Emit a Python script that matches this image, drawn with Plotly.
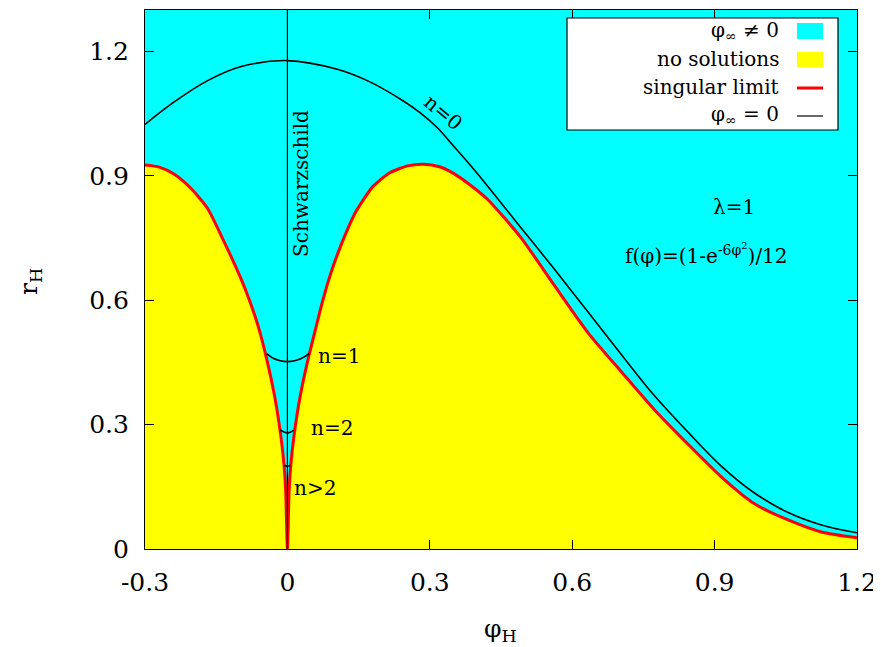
import plotly.graph_objects as go

# ---------------- data ----------------
# n = 0 branch (phi_inf = 0)
phi_n0 = [-0.3, -0.24, -0.169, -0.099, 0.0, 0.105, 0.175, 0.245, 0.28, 0.316, 0.35, 0.386, 0.422,
          0.492, 0.561, 0.633, 0.703, 0.773, 0.843, 0.914, 0.984, 1.055, 1.125, 1.2]
r_n0 = [1.024, 1.077, 1.129, 1.163, 1.178, 1.157, 1.126, 1.080, 1.052, 1.016, 0.972, 0.925, 0.875,
        0.775, 0.677, 0.572, 0.470, 0.370, 0.283, 0.200, 0.135, 0.088, 0.058, 0.039]

# singular limit (boundary of the no-solution region)
phi_sing = [-0.3, -0.27, -0.24, -0.205, -0.169, -0.135, -0.099, -0.08, -0.061, -0.044, -0.027, -0.014,
            -0.007, -0.0036, 0.0,
            0.0036, 0.007, 0.014, 0.027, 0.044, 0.059, 0.07, 0.09, 0.112, 0.145, 0.18, 0.215, 0.253,
            0.287, 0.32, 0.35, 0.385, 0.422, 0.492, 0.561, 0.633, 0.703, 0.773, 0.843, 0.914, 0.984,
            1.055, 1.125, 1.2]
r_sing = [0.926, 0.921, 0.905, 0.872, 0.823, 0.745, 0.655, 0.600, 0.535, 0.460, 0.369, 0.274,
          0.201, 0.140, 0.0,
          0.140, 0.201, 0.274, 0.369, 0.460, 0.529, 0.580, 0.660, 0.730, 0.815, 0.874, 0.907, 0.924,
          0.928, 0.922, 0.906, 0.878, 0.843, 0.751, 0.638, 0.522, 0.428, 0.336, 0.254, 0.174, 0.109,
          0.070, 0.041, 0.027]

# Schwarzschild line
phi_schw = [0.0, 0.0]
r_schw = [0.0, 1.3]

# excited branches n = 1, 2, >2
phi_n1 = [-0.044, -0.03, -0.015, 0.0, 0.015, 0.03, 0.046]
r_n1 = [0.471, 0.460, 0.454, 0.452, 0.454, 0.460, 0.471]
phi_n2 = [-0.015, -0.007, 0.0, 0.007, 0.013]
r_n2 = [0.287, 0.282, 0.280, 0.282, 0.287]
phi_n3 = [-0.007, 0.0, 0.006]
r_n3 = [0.201, 0.200, 0.201]

x_ticks = [-0.3, 0, 0.3, 0.6, 0.9, 1.2]
x_tick_labels = ["-0.3", "0", "0.3", "0.6", "0.9", "1.2"]
y_ticks = [0, 0.3, 0.6, 0.9, 1.2]
y_tick_labels = ["0", "0.3", "0.6", "0.9", "1.2"]

legend_labels = ["φ<sub>∞</sub> ≠ 0", "no solutions", "singular limit", "φ<sub>∞</sub> = 0"]

CYAN = "#00FFFF"
YELLOW = "#FFFF00"
RED = "#FF0000"
FONT = "DejaVu Serif"

# ---------------- layout geometry ----------------
# page body has an 8px margin: the figure origin sits at (8, 8) in the screenshot
OFF = 8
W, H = 881 - OFF, 647 - OFF
PL, PR, PT, PB = 145, 857, 10, 549          # plot-area edges in screenshot pixels
ML, MR, MT, MB = PL - OFF, 881 - PR, PT - OFF, 647 - PB
PW, PH = PR - PL, PB - PT


def px(x):
    return (x - PL) / PW


def py(y):
    return (PB - y) / PH


fig = go.Figure()
fig.add_trace(go.Scatter(x=phi_sing, y=r_sing, mode="lines", fill="tozeroy",
                         fillcolor=YELLOW, line=dict(color=RED, width=3, shape="spline", smoothing=0.6),
                         showlegend=False, hoverinfo="skip"))
fig.add_trace(go.Scatter(x=phi_n0, y=r_n0, mode="lines",
                         line=dict(color="black", width=1.6, shape="spline", smoothing=1.0),
                         showlegend=False))
fig.add_trace(go.Scatter(x=phi_schw, y=r_schw, mode="lines", line=dict(color="black", width=1.2),
                         showlegend=False))
for xs, ys in [(phi_n1, r_n1), (phi_n2, r_n2), (phi_n3, r_n3)]:
    fig.add_trace(go.Scatter(x=xs, y=ys, mode="lines",
                             line=dict(color="black", width=1.6, shape="spline"), showlegend=False))

annots = []
txt_font = dict(family=FONT, size=20, color="black")
annots.append(dict(x=0.030, y=0.882, text="Schwarzschild", textangle=-90, showarrow=False,
                   font=txt_font, xref="x", yref="y"))
annots.append(dict(x=0.327, y=1.053, text="n=0", textangle=40, showarrow=False,
                   font=txt_font, xref="x", yref="y"))
annots.append(dict(x=0.108, y=0.466, text="n=1", showarrow=False, font=txt_font, xref="x", yref="y"))
annots.append(dict(x=0.093, y=0.292, text="n=2", showarrow=False, font=txt_font, xref="x", yref="y"))
annots.append(dict(x=0.059, y=0.147, text="n>2", showarrow=False, font=txt_font, xref="x", yref="y"))
annots.append(dict(x=0.941, y=0.826, text="λ=1", showarrow=False, font=txt_font, xref="x", yref="y"))
annots.append(dict(x=0.882, y=0.712, text="f(φ)=(1-e<sup>-6φ<sup>2</sup></sup>)/12", showarrow=False,
                   font=txt_font, xref="x", yref="y"))

# axis titles
title_font = dict(family=FONT, size=25, color="black")
annots.append(dict(x=px(500), y=py(630), xref="paper", yref="paper", text="φ<sub>H</sub>",
                   showarrow=False, font=title_font, xanchor="center", yanchor="middle"))
annots.append(dict(x=px(30), y=py(282), xref="paper", yref="paper", text="r<sub>H</sub>",
                   textangle=-90, showarrow=False, font=title_font, xanchor="center", yanchor="middle"))

# hand-built key box (text right-aligned, sample on the right)
shapes = []
shapes.append(dict(type="rect", xref="paper", yref="paper", x0=px(567), x1=px(838), y0=py(130), y1=py(18),
                   fillcolor="white", line=dict(color="black", width=1.2), layer="above"))
row_y = [31, 59, 87, 115]
shapes.append(dict(type="rect", xref="paper", yref="paper", x0=px(797), x1=px(823), y0=py(39), y1=py(23),
                   fillcolor=CYAN, line=dict(width=0), layer="above"))
shapes.append(dict(type="rect", xref="paper", yref="paper", x0=px(797), x1=px(823), y0=py(67), y1=py(52),
                   fillcolor=YELLOW, line=dict(width=0), layer="above"))
shapes.append(dict(type="line", xref="paper", yref="paper", x0=px(797), x1=px(823), y0=py(88), y1=py(88),
                   line=dict(color=RED, width=3), layer="above"))
shapes.append(dict(type="line", xref="paper", yref="paper", x0=px(797), x1=px(823), y0=py(116), y1=py(116),
                   line=dict(color="black", width=1.2), layer="above"))
for lab, ry in zip(legend_labels, row_y):
    annots.append(dict(x=px(781), y=py(ry), xref="paper", yref="paper", text=lab, showarrow=False,
                       xanchor="right", yanchor="middle", font=txt_font))

axis_common = dict(showgrid=False, zeroline=False, showline=True, linecolor="black", linewidth=1.2,
                   mirror="allticks", ticks="inside", ticklen=9, tickwidth=1, tickcolor="black",
                   tickfont=dict(family=FONT, size=25, color="black"))

fig.update_layout(
    width=W, height=H,
    margin=dict(l=ML, r=MR, t=MT, b=MB, pad=0),
    paper_bgcolor="white", plot_bgcolor=CYAN,
    showlegend=False,
    annotations=annots, shapes=shapes,
    xaxis=dict(range=[-0.3, 1.2], tickvals=x_ticks, ticktext=x_tick_labels, ticklabelstandoff=11,
               **axis_common),
    yaxis=dict(range=[0, 1.3], tickvals=y_ticks, ticktext=y_tick_labels, ticklabelstandoff=10,
               **axis_common),
)

fig.write_html("out.html")
